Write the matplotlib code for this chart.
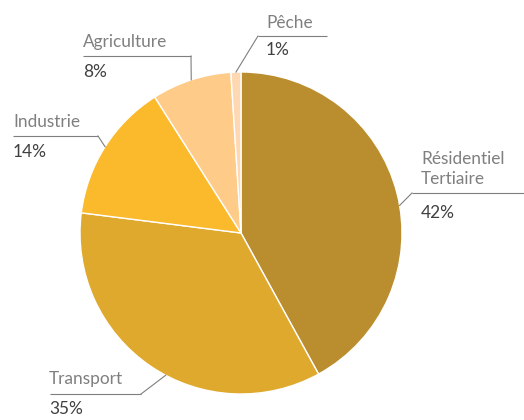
import numpy as np
import matplotlib.pyplot as plt

# Répartition de la consommation d'énergie par secteur (%)
secteurs = ["Résidentiel\nTertiaire", "Transport", "Industrie", "Agriculture", "Pêche"]
parts = [42, 35, 14, 8, 1]
couleurs = ["#BA8E2F", "#DFA92D", "#FBBA2C", "#FECB88", "#FDD8B2"]

W, H = 524, 420
CX, CY, R = 241, 233, 161

# label layout in pixels: text x, name y, underline y, underline x0, x1,
# leader side, pct y, where the leader meets the wedge (fraction of its arc)
layout = {
    "Résidentiel\nTertiaire": (421, 169, 193, 412, 524, 0, 213, 0.53),
    "Transport": (49, 379, 394, 50, 141, 1, 409, 0.45),
    "Industrie": (13, 122, 136, 13, 98, 1, 152, 0.5),
    "Agriculture": (83, 42, 56, 83, 191, 1, 72, 0.5),
    "Pêche": (266, 23, 36, 258, 327, 0, 50, 0.5),
}


def py(y):
    return H - y


fig = plt.figure(figsize=(W / 100, H / 100), dpi=100)
ax = fig.add_axes([0, 0, 1, 1])

wedges, _ = ax.pie(parts, colors=couleurs, startangle=90, counterclock=False,
                   center=(CX, py(CY)), radius=R,
                   wedgeprops=dict(edgecolor="white", linewidth=1.0))
ax.set_xlim(0, W)
ax.set_ylim(0, H)
ax.set_aspect("equal")
ax.axis("off")

font = "Lato"
for w, nom, pct in zip(wedges, secteurs, parts):
    tx, ny, ly, x0, x1, side, pyc, frac = layout[nom]
    # theta2 is the start of a clockwise wedge
    ang = np.deg2rad(w.theta2 - frac * (w.theta2 - w.theta1))
    ex = CX + R * np.cos(ang)
    ey = py(CY) + R * np.sin(ang)
    sx = x1 if side else x0
    ax.plot([x0, x1], [py(ly), py(ly)], color="#7F7F7F", lw=0.8,
            solid_capstyle="butt")
    ax.plot([sx, ex], [py(ly), ey], color="#7F7F7F", lw=0.8)
    ax.text(tx, py(ny), nom, ha="left", va="center", fontsize=12.4,
            family=font, color="#7F7F7F", linespacing=1.3)
    ax.text(tx, py(pyc), f"{pct}%", ha="left", va="center", fontsize=12.4,
            family=font, color="#404040")

fig.savefig("out.png", dpi=100)
